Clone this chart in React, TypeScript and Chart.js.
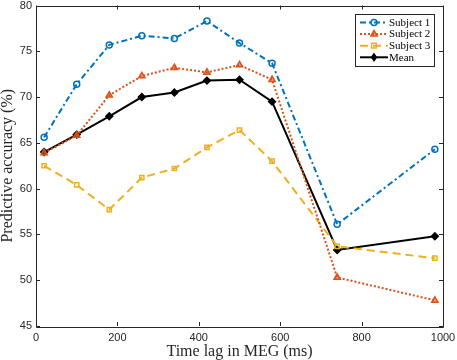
import React, { useEffect, useRef } from "react";
import { Chart, registerables } from "chart.js";

Chart.register(...registerables);

const timeLags = [20, 100, 180, 260, 340, 420, 500, 580, 740, 980];
const subject1 = [65.6, 71.4, 75.7, 76.7, 76.4, 78.3, 75.9, 73.7, 56.1, 64.3];
const subject2 = [63.9, 65.8, 70.2, 72.3, 73.2, 72.7, 73.5, 71.9, 50.3, 47.8];
const subject3 = [62.5, 60.4, 57.7, 61.2, 62.2, 64.5, 66.4, 63.0, 53.7, 52.4];
const meanAcc = [64.0, 65.9, 67.9, 70.0, 70.5, 71.8, 71.9, 69.5, 53.3, 54.8];
const seriesNames = ["Subject 1", "Subject 2", "Subject 3", "Mean"];
const xTicks = [0, 200, 400, 600, 800, 1000];
const yTicks = [45, 50, 55, 60, 65, 70, 75, 80];
const xTitle = "Time lag in MEG (ms)";
const yTitle = "Predictive accuracy (%)";

const C1 = "#0072BD";
const C2 = "#D95319";
const C3 = "#EDB120";
const C4 = "#000000";
const AXIS = "#262626";
const SERIF = "'Liberation Serif', 'DejaVu Serif', serif";
const SANS = "'Liberation Sans', Arial, sans-serif";

type Style = {
  color: string;
  dash: number[];
  point: string;
  radius: number;
  fill: string;
};

const styles: Style[] = [
  { color: C1, dash: [6, 3, 2, 3], point: "circle", radius: 3, fill: "rgba(255,255,255,0)" },
  { color: C2, dash: [2, 2], point: "triangle", radius: 3.6, fill: "rgba(217,83,25,0.55)" },
  { color: C3, dash: [8, 5], point: "rect", radius: 3, fill: "rgba(255,255,255,0)" },
  { color: C4, dash: [], point: "rectRot", radius: 3.4, fill: C4 },
];

function drawMarker(ctx: CanvasRenderingContext2D, st: Style, x: number, y: number) {
  const r = st.radius;
  ctx.save();
  ctx.setLineDash([]);
  ctx.lineWidth = 1.5;
  ctx.strokeStyle = st.color;
  ctx.fillStyle = st.fill;
  ctx.beginPath();
  if (st.point === "circle") {
    ctx.arc(x, y, r, 0, Math.PI * 2);
  } else if (st.point === "triangle") {
    ctx.moveTo(x, y - r);
    ctx.lineTo(x + r * 0.87, y + r * 0.5);
    ctx.lineTo(x - r * 0.87, y + r * 0.5);
    ctx.closePath();
  } else if (st.point === "rect") {
    const s = r * 0.8;
    ctx.rect(x - s, y - s, 2 * s, 2 * s);
  } else {
    ctx.moveTo(x, y - r);
    ctx.lineTo(x + r * 0.7, y);
    ctx.lineTo(x, y + r);
    ctx.lineTo(x - r * 0.7, y);
    ctx.closePath();
  }
  ctx.fill();
  ctx.stroke();
  ctx.restore();
}

const framePlugin = {
  id: "frameAndLegend",
  afterDraw(chart: any) {
    const ctx: CanvasRenderingContext2D = chart.ctx;
    const { left, right, top, bottom } = chart.chartArea;
    const xs = chart.scales.x;
    const ys = chart.scales.y;
    ctx.save();
    ctx.strokeStyle = AXIS;
    ctx.lineWidth = 1;
    ctx.setLineDash([]);
    ctx.beginPath();
    ctx.rect(Math.round(left) + 0.5, Math.round(top) + 0.5, Math.round(right - left), Math.round(bottom - top));
    ctx.stroke();
    const tl = 4;
    ctx.beginPath();
    for (const v of xTicks) {
      const px = Math.round(xs.getPixelForValue(v)) + 0.5;
      ctx.moveTo(px, bottom);
      ctx.lineTo(px, bottom - tl);
      ctx.moveTo(px, top);
      ctx.lineTo(px, top + tl);
    }
    for (const v of yTicks) {
      const py = Math.round(ys.getPixelForValue(v)) + 0.5;
      ctx.moveTo(left, py);
      ctx.lineTo(left + tl, py);
      ctx.moveTo(right, py);
      ctx.lineTo(right - tl, py);
    }
    ctx.stroke();

    // legend
    const bx = 355.5;
    const by = 14.5;
    const bw = 79;
    const bh = 52;
    ctx.fillStyle = "#ffffff";
    ctx.fillRect(bx, by, bw, bh);
    ctx.strokeStyle = AXIS;
    ctx.lineWidth = 1;
    ctx.strokeRect(bx, by, bw, bh);
    ctx.font = "11px " + SERIF;
    ctx.textBaseline = "middle";
    ctx.textAlign = "left";
    seriesNames.forEach((name, i) => {
      const st = styles[i];
      const y = 22.5 + i * 11.6;
      ctx.save();
      ctx.strokeStyle = st.color;
      ctx.lineWidth = 2;
      ctx.setLineDash(st.dash);
      ctx.beginPath();
      ctx.moveTo(360, y);
      ctx.lineTo(388, y);
      ctx.stroke();
      ctx.restore();
      drawMarker(ctx, st, 374, y);
      ctx.fillStyle = "#000000";
      ctx.fillText(name, 389, y + 0.5);
    });
    ctx.restore();
  },
};

export default function App() {
  const ref = useRef<HTMLCanvasElement | null>(null);

  useEffect(() => {
    document.body.style.margin = "0";
    const canvas = ref.current;
    if (!canvas) return;
    const allSeries = [subject1, subject2, subject3, meanAcc];
    const chart = new Chart(canvas, {
      type: "line",
      data: {
        datasets: allSeries.map((vals, i) => ({
          label: seriesNames[i],
          data: timeLags.map((x, j) => ({ x, y: vals[j] })),
          borderColor: styles[i].color,
          backgroundColor: styles[i].fill,
          borderWidth: 2,
          borderDash: styles[i].dash,
          pointStyle: styles[i].point as any,
          pointRadius: styles[i].radius,
          pointBorderWidth: 1.5,
          pointBorderColor: styles[i].color,
          pointBackgroundColor: styles[i].fill,
          fill: false,
          tension: 0,
        })),
      },
      options: {
        responsive: false,
        animation: false,
        devicePixelRatio: 1,
        layout: { padding: { top: 5, right: 14, left: 0, bottom: 0 } },
        plugins: {
          legend: { display: false },
          tooltip: { enabled: false },
        },
        scales: {
          x: {
            type: "linear",
            min: 0,
            max: 1000,
            grid: { display: false, drawTicks: false },
            border: { display: false },
            afterBuildTicks: (scale: any) => {
              scale.ticks = xTicks.map((v) => ({ value: v }));
            },
            ticks: {
              color: AXIS,
              font: { family: SANS, size: 11 },
              padding: 5,
              maxRotation: 0,
              autoSkip: false,
              callback: (v: any) => String(v),
            },
            title: {
              display: true,
              text: xTitle,
              color: AXIS,
              font: { family: SERIF, size: 16, lineHeight: 1 },
              padding: 0,
            },
            afterFit: (scale: any) => {
              scale.height = 34;
              scale.paddingLeft = 0;
              scale.paddingRight = 0;
            },
          } as any,
          y: {
            type: "linear",
            min: 45,
            max: 80,
            grid: { display: false, drawTicks: false },
            border: { display: false },
            afterBuildTicks: (scale: any) => {
              scale.ticks = yTicks.map((v) => ({ value: v }));
            },
            ticks: {
              color: AXIS,
              font: { family: SANS, size: 11 },
              padding: 4,
              autoSkip: false,
              callback: (v: any) => String(v),
            },
            title: {
              display: true,
              text: yTitle,
              color: AXIS,
              font: { family: SERIF, size: 16, lineHeight: 1 },
              padding: 0,
            },
            afterFit: (scale: any) => {
              scale.width = 36;
              scale.paddingTop = 0;
              scale.paddingBottom = 0;
            },
          } as any,
        },
      },
      plugins: [framePlugin],
    });
    return () => chart.destroy();
  }, []);

  return (
    <div style={{ position: "absolute", left: 0, top: 0, width: 457, height: 360 }}>
      <canvas ref={ref} width={457} height={360} style={{ width: 457, height: 360, display: "block" }} />
    </div>
  );
}
